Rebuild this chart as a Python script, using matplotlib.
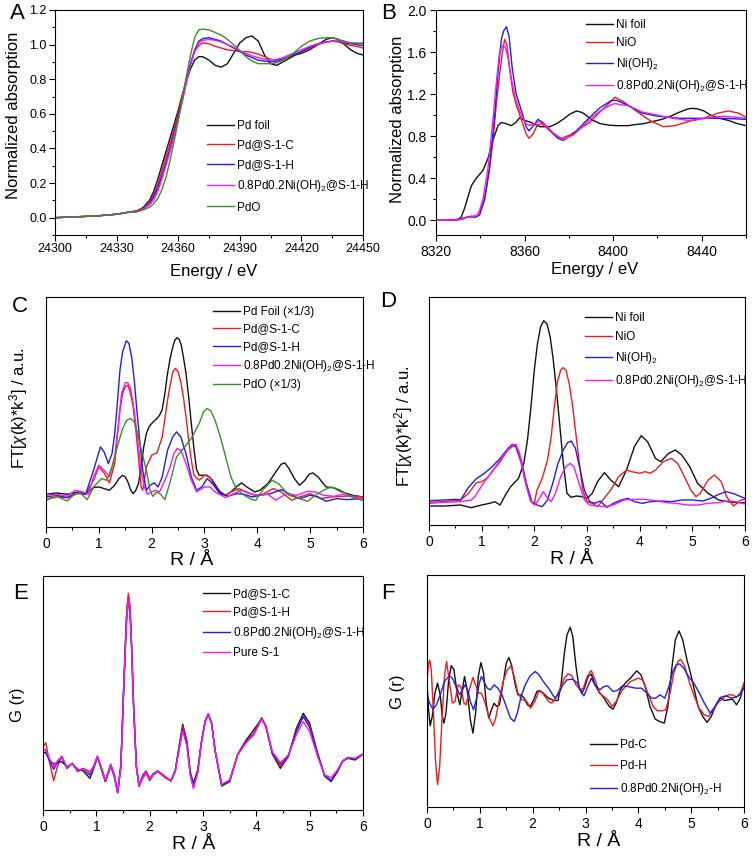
import matplotlib
matplotlib.use('Agg')
import matplotlib.pyplot as plt
from matplotlib.ticker import MultipleLocator
from matplotlib import font_manager

plt.rcParams['font.family'] = ['Liberation Sans', 'DejaVu Sans']
plt.rcParams['mathtext.fontset'] = 'custom'
plt.rcParams['mathtext.rm'] = 'Liberation Sans'
plt.rcParams['mathtext.it'] = 'Liberation Sans:italic'

# ---------------- A: Pd K-edge XANES ----------------
energy_a = [24300, 24310, 24320, 24330, 24335, 24340, 24343, 24346, 24348, 24350,
            24352, 24354, 24356, 24358, 24360, 24362, 24364, 24366, 24368, 24370,
            24372, 24375, 24378, 24381, 24384, 24387, 24390, 24393, 24396, 24399,
            24402, 24405, 24408, 24411, 24414, 24417, 24420, 24424, 24428, 24432,
            24435, 24438, 24441, 24444, 24447, 24450]
pd_foil_a = [0.0, 0.005, 0.01, 0.02, 0.03, 0.04, 0.06, 0.10, 0.15, 0.22,
             0.30, 0.38, 0.46, 0.54, 0.62, 0.71, 0.79, 0.86, 0.91, 0.93,
             0.93, 0.91, 0.88, 0.87, 0.89, 0.95, 1.01, 1.04, 1.05, 1.02,
             0.94, 0.89, 0.88, 0.90, 0.92, 0.94, 0.95, 0.97, 1.00, 1.03,
             1.04, 1.03, 1.00, 0.97, 0.95, 0.94]
pd_s1c_a = [0.0, 0.005, 0.01, 0.02, 0.03, 0.04, 0.055, 0.09, 0.13, 0.19,
            0.27, 0.35, 0.43, 0.51, 0.60, 0.70, 0.80, 0.89, 0.96, 0.995,
            1.01, 1.005, 0.99, 0.98, 0.97, 0.965, 0.96, 0.96, 0.955, 0.945,
            0.93, 0.915, 0.91, 0.915, 0.93, 0.945, 0.96, 0.98, 1.0, 1.015,
            1.02, 1.015, 1.005, 0.995, 0.99, 0.98]
pd_s1h_a = [0.0, 0.005, 0.01, 0.02, 0.03, 0.035, 0.05, 0.08, 0.12, 0.17,
            0.24, 0.32, 0.40, 0.49, 0.58, 0.68, 0.79, 0.89, 0.97, 1.02,
            1.035, 1.04, 1.03, 1.02, 1.0, 0.98, 0.96, 0.94, 0.925, 0.91,
            0.905, 0.90, 0.905, 0.915, 0.93, 0.945, 0.96, 0.985, 1.005, 1.015,
            1.02, 1.02, 1.01, 1.005, 1.0, 0.995]
pdni_a = [0.0, 0.005, 0.01, 0.02, 0.03, 0.035, 0.05, 0.075, 0.10, 0.15,
          0.22, 0.30, 0.38, 0.47, 0.57, 0.67, 0.78, 0.88, 0.96, 1.01,
          1.025, 1.03, 1.025, 1.015, 1.0, 0.985, 0.965, 0.95, 0.935, 0.925,
          0.915, 0.91, 0.915, 0.925, 0.94, 0.955, 0.97, 0.99, 1.005, 1.015,
          1.02, 1.02, 1.015, 1.01, 1.01, 1.005]
pdo_a = [0.0, 0.005, 0.01, 0.02, 0.03, 0.035, 0.045, 0.06, 0.08, 0.11,
         0.16, 0.23, 0.33, 0.44, 0.56, 0.69, 0.82, 0.94, 1.04, 1.085,
         1.09, 1.085, 1.07, 1.055, 1.03, 1.0, 0.965, 0.93, 0.905, 0.89,
         0.89, 0.89, 0.895, 0.91, 0.93, 0.96, 0.99, 1.02, 1.035, 1.04,
         1.04, 1.03, 1.02, 1.01, 1.005, 1.01]

# ---------------- B: Ni K-edge XANES ----------------
e_nifoil = [8320, 8325, 8330, 8331.4, 8333, 8334.4, 8336, 8338.2, 8341.2, 8343.5,
            8345.7, 8348, 8349.5, 8351.5, 8354, 8356, 8357.8, 8360, 8362.4, 8367,
            8371.4, 8374.5, 8377.4, 8380.5, 8383.5, 8386, 8388, 8391, 8394, 8398,
            8401.6, 8406.7, 8410, 8414, 8418, 8422, 8426, 8429, 8432, 8434,
            8436, 8438, 8441, 8444, 8448, 8452, 8456, 8460]
nifoil_b = [0.0, 0.0, 0.01, 0.03, 0.12, 0.22, 0.33, 0.40, 0.475, 0.59,
            0.76, 0.90, 0.93, 0.92, 0.90, 0.93, 0.975, 0.95, 0.935, 0.89,
            0.89, 0.92, 0.96, 1.01, 1.04, 1.025, 0.995, 0.95, 0.92, 0.905,
            0.90, 0.90, 0.91, 0.92, 0.94, 0.96, 0.99, 1.02, 1.045, 1.06,
            1.065, 1.06, 1.04, 1.0, 0.97, 0.95, 0.92, 0.90]
e_nio = [8320, 8325, 8330, 8332, 8334, 8336, 8338.2, 8339.7, 8341.2, 8342.7,
         8344.2, 8345.7, 8347.2, 8348.7, 8350, 8351, 8352, 8353.2, 8354.7, 8356.5,
         8358.5, 8360.7, 8362, 8363.8, 8365.6, 8367.6, 8369.9, 8372.9, 8376.6, 8380.4,
         8384.9, 8389.4, 8394, 8398.5, 8400.7, 8404.5, 8409.7, 8416.5, 8422.6, 8428,
         8434, 8441, 8447.5, 8452, 8456.5, 8460]
nio_b = [0.0, 0.0, 0.005, 0.01, 0.03, 0.04, 0.04, 0.08, 0.15, 0.30,
         0.50, 0.75, 1.10, 1.38, 1.60, 1.72, 1.67, 1.45, 1.22, 1.08,
         0.96, 0.82, 0.78, 0.82, 0.90, 0.92, 0.88, 0.82, 0.78, 0.81,
         0.87, 0.93, 1.03, 1.12, 1.17, 1.13, 1.05, 0.95, 0.89, 0.90,
         0.94, 0.97, 1.02, 1.04, 1.02, 0.98]
e_nioh = [8320, 8325, 8330, 8334, 8336, 8338, 8339.7, 8342, 8344.2, 8346.5,
          8348, 8349.5, 8350.5, 8351.8, 8353, 8354.4, 8356.2, 8358.5, 8360.7, 8362,
          8364, 8366, 8368.3, 8371.4, 8375, 8377.4, 8382, 8388, 8394, 8399.3,
          8401.6, 8406, 8413, 8420, 8430, 8440, 8450, 8460]
nioh_b = [0.0, 0.0, 0.005, 0.03, 0.03, 0.03, 0.05, 0.20, 0.50, 1.0,
          1.40, 1.72, 1.80, 1.84, 1.75, 1.45, 1.20, 1.05, 0.89, 0.85,
          0.90, 0.96, 0.93, 0.86, 0.78, 0.76, 0.82, 0.95, 1.07, 1.14,
          1.14, 1.10, 1.02, 0.99, 0.97, 0.97, 0.97, 0.96]
e_pdni = [8320, 8325, 8330, 8334, 8336, 8339, 8341.2, 8343.5, 8345.7, 8347.2,
          8348.7, 8350, 8351.2, 8352.5, 8354, 8356, 8358.5, 8360.7, 8362.2, 8364.4,
          8366.7, 8369, 8372.9, 8377.4, 8382, 8388, 8394, 8399.3, 8401, 8403,
          8407, 8413, 8420, 8427, 8434, 8442, 8450, 8455, 8460]
pdni_b = [0.0, 0.0, 0.005, 0.03, 0.03, 0.05, 0.20, 0.50, 0.95, 1.30,
          1.60, 1.66, 1.65, 1.55, 1.35, 1.15, 1.0, 0.92, 0.90, 0.92,
          0.94, 0.91, 0.83, 0.77, 0.81, 0.93, 1.04, 1.10, 1.11, 1.10,
          1.09, 1.03, 1.0, 0.97, 0.95, 0.97, 0.99, 0.98, 0.97]

# ---------------- C: Pd EXAFS FT (a.u.) ----------------
r_pdfoil_c = [0, 0.2, 0.4, 0.6, 0.75, 0.9, 1.0, 1.1, 1.2, 1.3, 1.38, 1.45, 1.5, 1.55, 1.6,
              1.65, 1.7, 1.75, 1.8, 1.85, 1.9, 1.95, 2.0, 2.05, 2.1, 2.15, 2.2, 2.25, 2.3,
              2.35, 2.4, 2.44, 2.48, 2.52, 2.56, 2.6, 2.65, 2.7, 2.75, 2.8, 2.85, 2.9, 2.95,
              3.05, 3.15, 3.25, 3.3, 3.4, 3.5, 3.6, 3.7, 3.8, 3.95, 4.05, 4.2, 4.35, 4.45,
              4.52, 4.6, 4.7, 4.8, 4.9, 4.98, 5.05, 5.15, 5.3, 5.45, 5.6, 5.8, 6.0]
pdfoil_c = [98, 102, 98, 105, 98, 118, 120, 115, 110, 125, 145, 155, 150, 135, 112,
            100, 110, 130, 180, 240, 280, 300, 310, 318, 325, 335, 352, 400, 460,
            505, 540, 560, 567, 562, 545, 510, 460, 390, 310, 235, 172, 155, 155,
            155, 140, 115, 105, 95, 105, 120, 132, 120, 105, 110, 130, 165, 188,
            192, 175, 145, 125, 140, 158, 162, 150, 120, 117, 105, 95, 90]
r_pds1c_c = [0, 0.2, 0.4, 0.6, 0.75, 0.9, 1.0, 1.1, 1.2, 1.3, 1.4, 1.45, 1.5, 1.55, 1.6,
             1.65, 1.7, 1.75, 1.8, 1.83, 1.9, 2.0, 2.1, 2.2, 2.3, 2.35, 2.4, 2.45, 2.5,
             2.55, 2.6, 2.65, 2.7, 2.75, 2.8, 2.9, 3.0, 3.1, 3.2, 3.3, 3.4, 3.5, 3.65,
             3.8, 3.95, 4.1, 4.3, 4.45, 4.65, 4.8, 5.0, 5.2, 5.4, 5.6, 5.8, 6.0]
pds1c_c = [82, 90, 88, 100, 98, 140, 180, 162, 132, 190, 350, 400, 420, 425, 400,
           360, 290, 210, 120, 110, 180, 215, 222, 270, 380, 425, 465, 475, 465,
           435, 390, 330, 260, 200, 155, 140, 155, 150, 120, 98, 95, 105, 115,
           105, 95, 98, 115, 105, 80, 90, 100, 85, 90, 92, 93, 90]
r_pds1h_c = [0, 0.2, 0.4, 0.6, 0.75, 0.9, 1.03, 1.1, 1.18, 1.25, 1.3, 1.35, 1.4, 1.45,
             1.52, 1.57, 1.62, 1.67, 1.72, 1.78, 1.83, 1.9, 1.97, 2.05, 2.12, 2.2, 2.3,
             2.4, 2.47, 2.55, 2.65, 2.75, 2.85, 2.95, 3.05, 3.15, 3.3, 3.45, 3.6, 3.75,
             3.9, 4.05, 4.25, 4.45, 4.6, 4.8, 5.0, 5.15, 5.3, 5.5, 5.7, 6.0]
pds1h_c = [90, 95, 88, 105, 98, 170, 240, 225, 190, 220, 280, 370, 470, 525,
           558, 550, 510, 440, 350, 250, 170, 110, 125, 132, 120, 150, 230,
           270, 285, 270, 220, 150, 110, 120, 145, 130, 100, 92, 100, 98,
           90, 95, 100, 112, 100, 85, 95, 90, 77, 85, 82, 85]
r_pdni_c = [0, 0.2, 0.4, 0.55, 0.7, 0.8, 0.9, 1.0, 1.1, 1.2, 1.3, 1.37, 1.43, 1.5, 1.55,
            1.6, 1.65, 1.7, 1.75, 1.8, 1.86, 1.92, 2.0, 2.08, 2.15, 2.25, 2.35, 2.42,
            2.48, 2.55, 2.65, 2.75, 2.85, 3.0, 3.1, 3.2, 3.4, 3.55, 3.7, 3.85, 4.0, 4.2,
            4.35, 4.55, 4.75, 4.95, 5.1, 5.25, 5.45, 5.6, 5.8, 6.0]
pdni_c = [95, 98, 92, 110, 105, 98, 150, 185, 170, 150, 210, 310, 400, 432, 432,
          415, 370, 310, 240, 170, 120, 98, 105, 110, 105, 140, 180, 220,
          235, 230, 190, 140, 105, 120, 120, 105, 88, 100, 110, 100, 95, 98,
          80, 100, 95, 107, 105, 95, 92, 98, 90, 85]
r_pdo_c = [0, 0.15, 0.3, 0.4, 0.55, 0.65, 0.78, 0.9, 1.05, 1.15, 1.25, 1.35, 1.45, 1.53,
           1.6, 1.67, 1.75, 1.82, 1.9, 1.97, 2.02, 2.1, 2.17, 2.25, 2.35, 2.47, 2.6, 2.75,
           2.9, 2.98, 3.05, 3.12, 3.2, 3.3, 3.4, 3.5, 3.6, 3.75, 3.9, 3.97, 4.1, 4.28,
           4.4, 4.6, 4.8, 4.95, 5.1, 5.25, 5.4, 5.55, 5.7, 5.85, 6.0]
pdo_c = [78, 95, 85, 78, 100, 102, 82, 120, 145, 140, 180, 240, 295, 320,
         325, 315, 270, 220, 170, 110, 92, 105, 98, 82, 135, 210, 235, 265,
         310, 345, 355, 348, 320, 270, 210, 150, 115, 95, 82, 80, 110, 140,
         130, 95, 85, 77, 95, 110, 120, 112, 98, 85, 80]

# ---------------- D: Ni EXAFS FT (a.u.) ----------------
r_nifoil_d = [0, 0.3, 0.6, 0.8, 1.0, 1.15, 1.25, 1.35, 1.45, 1.55, 1.7, 1.8, 1.87, 1.93,
              2.0, 2.06, 2.12, 2.18, 2.24, 2.3, 2.36, 2.42, 2.48, 2.55, 2.62, 2.7, 2.8,
              2.9, 3.0, 3.1, 3.2, 3.33, 3.45, 3.6, 3.75, 3.9, 4.03, 4.15, 4.3, 4.4, 4.55,
              4.68, 4.8, 4.95, 5.1, 5.3, 5.5, 5.7, 5.9, 6.0]
nifoil_d = [62, 62, 65, 57, 65, 70, 75, 65, 95, 120, 145, 190, 260, 350,
            470, 550, 600, 618, 608, 570, 500, 410, 310, 190, 100, 88, 92,
            90, 85, 100, 135, 162, 140, 120, 170, 240, 273, 255, 205, 195, 220,
            230, 215, 180, 130, 100, 80, 74, 72, 72]
r_nio_d = [0, 0.3, 0.6, 0.75, 0.9, 1.0, 1.1, 1.2, 1.35, 1.5, 1.6, 1.65, 1.75, 1.85, 1.95,
           2.0, 2.05, 2.15, 2.25, 2.32, 2.38, 2.44, 2.5, 2.55, 2.6, 2.66, 2.72, 2.78,
           2.84, 2.92, 3.0, 3.1, 3.2, 3.3, 3.45, 3.6, 3.75, 3.85, 4.0, 4.1, 4.2, 4.3,
           4.45, 4.6, 4.72, 4.85, 4.97, 5.07, 5.15, 5.3, 5.42, 5.55, 5.65, 5.78, 5.85,
           5.92, 6.0]
nio_d = [73, 75, 80, 100, 132, 135, 145, 165, 195, 230, 242, 240, 190, 120, 72,
         70, 110, 145, 200, 270, 360, 435, 470, 477, 470, 430, 370, 290,
         210, 110, 75, 70, 60, 80, 110, 150, 170, 165, 160, 165, 160, 170,
         195, 205, 190, 150, 110, 90, 100, 140, 155, 135, 90, 62, 70,
         80, 82]
r_nioh_d = [0, 0.3, 0.5, 0.6, 0.75, 0.9, 1.05, 1.2, 1.35, 1.5, 1.58, 1.65, 1.75, 1.85,
            1.95, 2.05, 2.15, 2.25, 2.35, 2.45, 2.55, 2.63, 2.7, 2.78, 2.87, 2.95, 3.05,
            3.15, 3.25, 3.38, 3.5, 3.65, 3.78, 3.9, 4.05, 4.2, 4.4, 4.6, 4.8, 5.0, 5.2,
            5.35, 5.5, 5.65, 5.8, 6.0]
nioh_d = [78, 80, 82, 80, 118, 144, 160, 180, 205, 235, 247, 242, 200, 130,
          75, 65, 60, 80, 130, 190, 230, 252, 257, 235, 170, 110, 75,
          70, 77, 58, 70, 80, 85, 75, 70, 75, 77, 75, 80, 80, 77,
          85, 97, 105, 98, 85]
r_pdni_d = [0, 0.3, 0.6, 0.8, 0.87, 0.95, 1.05, 1.2, 1.35, 1.5, 1.6, 1.65, 1.72, 1.82,
            1.92, 2.0, 2.08, 2.17, 2.25, 2.32, 2.4, 2.5, 2.6, 2.68, 2.75, 2.85, 2.95,
            3.05, 3.2, 3.35, 3.5, 3.7, 3.9, 4.1, 4.3, 4.5, 4.7, 4.9, 5.1, 5.3, 5.5,
            5.7, 5.85, 6.0]
pdni_d = [70, 73, 75, 80, 90, 110, 135, 165, 200, 232, 245, 247, 220, 140,
          80, 65, 80, 105, 85, 75, 100, 150, 180, 190, 180, 130, 80,
          65, 62, 60, 65, 80, 82, 82, 78, 72, 70, 65, 65, 70, 72,
          78, 74, 68]

# ---------------- E: PDF G(r), zeolite samples ----------------
r_e = [0, 0.05, 0.12, 0.2, 0.27, 0.35, 0.45, 0.55, 0.65, 0.75, 0.88, 0.95, 1.02, 1.1,
       1.17, 1.27, 1.34, 1.4, 1.46, 1.5, 1.54, 1.57, 1.6, 1.63, 1.66, 1.7, 1.75, 1.8,
       1.87, 1.93, 2.0, 2.07, 2.15, 2.28, 2.4, 2.48, 2.55, 2.62, 2.7, 2.76, 2.82, 2.9,
       2.97, 3.04, 3.1, 3.16, 3.23, 3.35, 3.5, 3.65, 3.8, 3.95, 4.03, 4.1, 4.18, 4.3,
       4.45, 4.6, 4.75, 4.88, 5.0, 5.15, 5.28, 5.4, 5.52, 5.62, 5.72, 5.85, 6.0]
pd_s1c_e = [172, 172, 150, 138, 142, 145, 130, 138, 122, 118, 95, 125, 158, 120,
            85, 132, 98, 52, 135, 310, 480, 590, 638, 608, 500, 310, 135, 72,
            102, 115, 92, 108, 117, 100, 87, 120, 190, 257, 205, 115, 80, 120,
            205, 268, 288, 262, 175, 72, 85, 167, 208, 240, 258, 275, 250, 168,
            125, 160, 245, 290, 260, 170, 102, 87, 115, 147, 155, 150, 167]
pd_s1h_e = [190, 202, 145, 88, 130, 162, 125, 140, 115, 125, 115, 132, 162, 122,
            85, 138, 105, 52, 135, 320, 490, 600, 650, 615, 505, 310, 130, 70,
            95, 110, 88, 105, 115, 98, 87, 118, 185, 250, 198, 110, 70, 115,
            202, 267, 288, 262, 175, 75, 88, 167, 205, 230, 255, 277, 252, 172,
            130, 162, 238, 282, 252, 168, 105, 90, 117, 148, 157, 153, 168]
pdni_e = [180, 180, 148, 122, 142, 158, 125, 140, 120, 122, 105, 128, 160, 123,
          87, 135, 100, 52, 130, 300, 470, 575, 625, 595, 485, 300, 130, 72,
          105, 117, 95, 110, 117, 102, 87, 117, 182, 242, 195, 108, 70, 113,
          202, 265, 285, 260, 175, 75, 88, 165, 202, 227, 252, 274, 250, 172,
          137, 164, 235, 280, 248, 165, 102, 85, 115, 147, 157, 153, 168]
pure_s1_e = [175, 182, 155, 128, 148, 160, 128, 140, 122, 122, 110, 130, 160, 125,
             88, 135, 100, 52, 130, 300, 470, 580, 632, 600, 490, 300, 130, 72,
             100, 115, 92, 108, 117, 102, 87, 115, 180, 238, 190, 105, 64, 110,
             200, 265, 285, 260, 175, 77, 90, 165, 200, 225, 250, 273, 250, 175,
             142, 165, 225, 265, 235, 160, 105, 97, 120, 148, 158, 155, 168]

# ---------------- F: differential G(r) ----------------
r_pdc_f = [0.0, 0.03, 0.06, 0.10, 0.15, 0.20, 0.25, 0.29, 0.32, 0.36, 0.41, 0.46, 0.51,
           0.57, 0.62, 0.67, 0.71, 0.76, 0.82, 0.87, 0.92, 0.97, 1.02, 1.07, 1.12, 1.17,
           1.22, 1.27, 1.32, 1.37, 1.43, 1.5, 1.55, 1.6, 1.67, 1.72, 1.78, 1.84, 1.9,
           1.95, 2.02, 2.08, 2.13, 2.2, 2.3, 2.4, 2.48, 2.54, 2.6, 2.65, 2.71, 2.76,
           2.82, 2.88, 2.93, 2.98, 3.05, 3.11, 3.18, 3.25, 3.35, 3.45, 3.52, 3.58, 3.66,
           3.75, 3.85, 3.97, 4.05, 4.13, 4.22, 4.32, 4.4, 4.49, 4.56, 4.63, 4.7, 4.77,
           4.84, 4.92, 4.98, 5.06, 5.13, 5.22, 5.3, 5.38, 5.47, 5.55, 5.63, 5.7, 5.78,
           5.86, 5.93, 6.0]
pdc_f = [372, 292, 244, 272, 342, 372, 337, 272, 252, 282, 382, 425, 412,
         342, 307, 352, 392, 352, 262, 222, 282, 392, 434, 402, 312, 267,
         292, 312, 302, 307, 362, 432, 449, 427, 367, 337, 337, 327, 307,
         302, 322, 347, 350, 342, 327, 320, 320, 372, 462, 517, 540, 512,
         422, 357, 342, 357, 392, 399, 367, 347, 327, 302, 294, 312, 352,
         372, 387, 409, 397, 362, 302, 264, 257, 252, 302, 412, 502, 529,
         502, 442, 407, 352, 302, 272, 254, 272, 307, 327, 320, 322, 324,
         307, 327, 372]
r_pdh_f = [0.0, 0.03, 0.05, 0.08, 0.12, 0.16, 0.2, 0.24, 0.28, 0.33, 0.37, 0.42, 0.48,
           0.53, 0.59, 0.64, 0.7, 0.74, 0.8, 0.87, 0.93, 0.98, 1.03, 1.1, 1.18, 1.25,
           1.3, 1.38, 1.45, 1.52, 1.59, 1.65, 1.72, 1.8, 1.88, 1.96, 2.04, 2.12, 2.2,
           2.3, 2.36, 2.44, 2.52, 2.6, 2.67, 2.74, 2.82, 2.9, 2.96, 3.03, 3.11, 3.18,
           3.26, 3.33, 3.42, 3.5, 3.58, 3.7, 3.85, 4.0, 4.08, 4.18, 4.28, 4.36, 4.45,
           4.52, 4.6, 4.67, 4.75, 4.8, 4.88, 4.97, 5.06, 5.15, 5.25, 5.33, 5.42, 5.5,
           5.6, 5.7, 5.78, 5.86, 5.93, 6.0]
pdh_f = [382, 432, 442, 412, 292, 142, 67, 122, 252, 392, 437, 382, 312,
         317, 367, 362, 312, 307, 352, 389, 362, 342, 342, 312, 267, 244,
         267, 332, 382, 412, 424, 392, 342, 322, 319, 297, 317, 349, 340,
         317, 312, 327, 357, 387, 400, 394, 367, 352, 357, 392, 410, 382,
         342, 334, 322, 302, 317, 352, 377, 387, 382, 342, 302, 289, 289,
         292, 342, 402, 437, 444, 422, 372, 332, 297, 277, 272, 292, 312,
         327, 337, 337, 330, 342, 372]
r_pdni_f = [0.0, 0.05, 0.11, 0.18, 0.25, 0.33, 0.42, 0.48, 0.55, 0.62, 0.67, 0.72, 0.77,
            0.82, 0.88, 0.94, 0.99, 1.03, 1.08, 1.14, 1.2, 1.27, 1.34, 1.42, 1.5, 1.58,
            1.65, 1.71, 1.78, 1.86, 1.95, 2.05, 2.12, 2.2, 2.3, 2.42, 2.5, 2.57, 2.65,
            2.75, 2.85, 2.93, 2.97, 3.03, 3.11, 3.18, 3.27, 3.35, 3.42, 3.52, 3.6, 3.7,
            3.8, 3.95, 4.06, 4.15, 4.25, 4.33, 4.41, 4.5, 4.58, 4.65, 4.72, 4.78, 4.86,
            4.95, 5.05, 5.15, 5.25, 5.36, 5.45, 5.55, 5.65, 5.77, 5.85, 5.92, 6.0]
pdni_f = [337, 312, 294, 307, 337, 377, 394, 387, 362, 337, 352, 367, 352,
          317, 292, 327, 372, 392, 377, 357, 352, 367, 357, 337, 302, 267,
          257, 282, 332, 367, 394, 407, 397, 377, 357, 327, 342, 367, 382,
          384, 372, 342, 334, 357, 387, 367, 352, 362, 364, 347, 350, 364,
          362, 357, 357, 344, 327, 327, 337, 327, 362, 407, 427, 430, 417,
          392, 372, 344, 312, 282, 302, 329, 334, 327, 330, 337, 357]

BLACK = '#111111'
RED = '#ee1c1c'
BLUE = '#1f1fe6'
MAGENTA = '#f21cf2'
GREEN = '#3c8c2c'

try:
    font_manager.findfont('Liberation Sans Narrow', fallback_to_default=False)
    narrow = 'Liberation Sans Narrow'
except ValueError:
    narrow = 'Liberation Sans'

W, H = 756, 858
fig = plt.figure(figsize=(W / 100, H / 100), dpi=100)


def make_axes(left, right, top, bottom):
    return fig.add_axes([left / W, 1 - bottom / H, (right - left) / W, (bottom - top) / H])


def style(ax, xlim, xmaj, xmin, ylim, ymaj=None, ymin=None):
    ax.set_xlim(xlim)
    ax.set_ylim(ylim)
    ax.xaxis.set_major_locator(MultipleLocator(xmaj))
    ax.xaxis.set_minor_locator(MultipleLocator(xmin))
    if ymaj is None:
        ax.set_yticks([])
    else:
        ax.yaxis.set_major_locator(MultipleLocator(ymaj))
        ax.yaxis.set_minor_locator(MultipleLocator(ymin))
    ax.tick_params(which='both', direction='out', top=False, right=False, width=0.8,
                   labelsize=10)
    ax.tick_params(which='major', length=4, pad=3)
    ax.tick_params(which='minor', length=2)
    for s in ax.spines.values():
        s.set_linewidth(0.8)


def legend(ax, x, y, spacing=0.55):
    ax.legend(loc='upper left', bbox_to_anchor=(x, y), frameon=False, fontsize=8.5,
              handlelength=2.3, handletextpad=0.25, labelspacing=spacing,
              borderpad=0, borderaxespad=0)


lw = 1.0
sub_pdni = '0.8Pd0.2Ni(OH)$_2$@S-1-H'

# A
axA = make_axes(55, 363, 10, 235)
axA.plot(energy_a, pd_foil_a, color=BLACK, lw=lw, label='Pd foil')
axA.plot(energy_a, pd_s1c_a, color=RED, lw=lw, label='Pd@S-1-C')
axA.plot(energy_a, pd_s1h_a, color=BLUE, lw=lw, label='Pd@S-1-H')
axA.plot(energy_a, pdni_a, color=MAGENTA, lw=lw, label=sub_pdni)
axA.plot(energy_a, pdo_a, color=GREEN, lw=lw, label='PdO')
style(axA, (24300, 24450), 30, 15, (-0.1, 1.2), 0.2, 0.1)
axA.tick_params(which='major', pad=2)
for t in axA.get_xticklabels() + axA.get_yticklabels():
    t.set_fontfamily(narrow)
    t.set_fontsize(9)
axA.set_xlabel('Energy / eV', fontsize=12)
axA.xaxis.set_label_coords(0.516, -0.13)
axA.set_ylabel('Normalized absorption', fontsize=12)
axA.yaxis.set_label_coords(-0.11, 0.53)
legend(axA, 0.494, 0.51, 0.62)

# B
axB = make_axes(436, 746, 10, 235)
axB.plot(e_nifoil, nifoil_b, color=BLACK, lw=lw, label='Ni foil')
axB.plot(e_nio, nio_b, color=RED, lw=lw, label='NiO')
axB.plot(e_nioh, nioh_b, color=BLUE, lw=lw, label='Ni(OH)$_2$')
axB.plot(e_pdni, pdni_b, color=MAGENTA, lw=lw, label=sub_pdni)
style(axB, (8320, 8460), 40, 20, (-0.14, 2.0), 0.4, 0.2)
axB.set_xlabel('Energy / eV', fontsize=12)
axB.xaxis.set_label_coords(0.513, -0.12)
axB.set_ylabel('Normalized absorption', fontsize=12)
axB.yaxis.set_label_coords(-0.1, 0.516)
legend(axB, 0.484, 0.96, 0.55)

# C
axC = make_axes(46, 363, 297, 527)
axC.plot(r_pdfoil_c, pdfoil_c, color=BLACK, lw=lw, label='Pd Foil (\u00d71/3)')
axC.plot(r_pds1c_c, pds1c_c, color=RED, lw=lw, label='Pd@S-1-C')
axC.plot(r_pds1h_c, pds1h_c, color=BLUE, lw=lw, label='Pd@S-1-H')
axC.plot(r_pdni_c, pdni_c, color=MAGENTA, lw=lw, label=sub_pdni)
axC.plot(r_pdo_c, pdo_c, color=GREEN, lw=lw, label='PdO (\u00d71/3)')
style(axC, (0, 6), 1, 0.5, (0, 689))
axC.set_xlabel('R / \u00c5', fontsize=14)
axC.xaxis.set_label_coords(0.46, -0.11)
axC.set_ylabel('FT[$\\chi$(k)*k$^3$] / a.u.', fontsize=12)
axC.yaxis.set_label_coords(-0.05, 0.517)
legend(axC, 0.527, 0.96, 0.45)

# D
axD = make_axes(429, 745, 297, 525)
axD.plot(r_nifoil_d, nifoil_d, color=BLACK, lw=lw, label='Ni foil')
axD.plot(r_nio_d, nio_d, color=RED, lw=lw, label='NiO')
axD.plot(r_nioh_d, nioh_d, color=BLUE, lw=lw, label='Ni(OH)$_2$')
axD.plot(r_pdni_d, pdni_d, color=MAGENTA, lw=lw, label=sub_pdni)
style(axD, (0, 6), 1, 0.5, (5, 689))
axD.set_xlabel('R / \u00c5', fontsize=14)
axD.xaxis.set_label_coords(0.45, -0.115)
axD.set_ylabel('FT[$\\chi$(k)*k$^2$] / a.u.', fontsize=12)
axD.yaxis.set_label_coords(-0.044, 0.435)
legend(axD, 0.493, 0.934, 0.6)

# E
axE = make_axes(43, 363, 576, 810)
axE.plot(r_e, pd_s1c_e, color=BLACK, lw=lw, label='Pd@S-1-C')
axE.plot(r_e, pd_s1h_e, color=RED, lw=lw, label='Pd@S-1-H')
axE.plot(r_e, pdni_e, color=BLUE, lw=lw, label=sub_pdni)
axE.plot(r_e, pure_s1_e, color=MAGENTA, lw=lw, label='Pure S-1')
style(axE, (0, 6), 1, 0.5, (0, 702))
axE.set_xlabel('R / \u00c5', fontsize=14)
axE.xaxis.set_label_coords(0.47, -0.11)
axE.set_ylabel('G (r)', fontsize=12)
axE.yaxis.set_label_coords(-0.056, 0.449)
legend(axE, 0.5, 0.95, 0.55)

# F
axF = make_axes(427, 744, 575, 807)
axF.plot(r_pdc_f, pdc_f, color=BLACK, lw=lw, label='Pd-C')
axF.plot(r_pdh_f, pdh_f, color=RED, lw=lw, label='Pd-H')
axF.plot(r_pdni_f, pdni_f, color=BLUE, lw=lw, label='0.8Pd0.2Ni(OH)$_2$-H')
style(axF, (0, 6), 1, 0.5, (0, 697))
axF.set_xlabel('R / \u00c5', fontsize=14)
axF.xaxis.set_label_coords(0.54, -0.11)
axF.set_ylabel('G (r)', fontsize=12)
axF.yaxis.set_label_coords(-0.069, 0.496)
legend(axF, 0.514, 0.293, 0.75)

# panel letters
for letter, x, y in [('A', 10, 3), ('B', 381, 3), ('C', 12, 296), ('D', 380, 291),
                     ('E', 13, 583), ('F', 381, 583)]:
    fig.text(x / W, 1 - y / H, letter, fontsize=16, va='top', ha='left')

fig.savefig('out.png', dpi=100, facecolor='white')
